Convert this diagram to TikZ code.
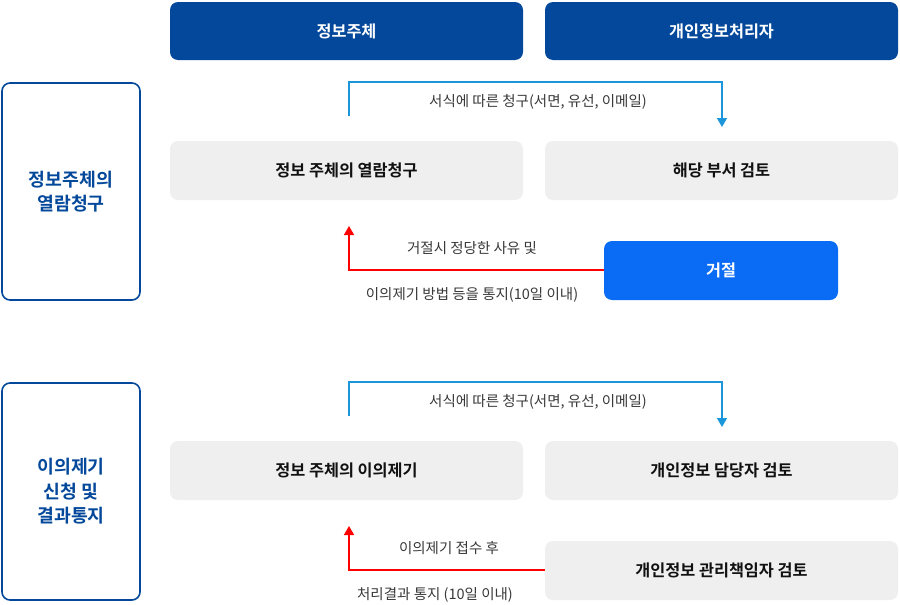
\documentclass[tikz,border=0pt]{standalone}
\usepackage{fontspec}
\setmainfont{Noto Sans CJK KR}[BoldFont={* Bold}]
\usetikzlibrary{arrows.meta}
\definecolor{navy}{HTML}{03489A}
\definecolor{btnblue}{HTML}{0A6CF5}
\definecolor{boxgray}{HTML}{EFEFEF}
\definecolor{linkblue}{HTML}{1B96DA}
\definecolor{labgray}{HTML}{383838}
\definecolor{txt}{HTML}{111111}
\tikzset{
  hdr/.style={fill=navy, rounded corners=8pt, text=white, font=\fontsize{16.3}{18}\selectfont\bfseries},
  side/.style={draw=navy, line width=1.6pt, fill=white, rounded corners=8pt, text=navy, align=center, font=\fontsize{18.3}{24.5}\selectfont\bfseries},
  gbox/.style={fill=boxgray, rounded corners=8pt, text=txt, font=\fontsize{16.3}{18}\selectfont\bfseries},
  bbox/.style={fill=btnblue, rounded corners=8pt, text=white, font=\fontsize{16.3}{18}\selectfont\bfseries},
  lab/.style={text=labgray, font=\fontsize{14.5}{16}\selectfont},
  bluearr/.style={draw=linkblue, line width=1.5pt, -{Triangle[length=9pt,width=10pt]}},
  redarr/.style={draw=red, line width=1.5pt, -{Triangle[length=9pt,width=10pt]}},
}
\begin{document}
\begin{tikzpicture}[x=1pt,y=-1pt]
\useasboundingbox (0,0) rectangle (900,605);
% headers
\node[hdr, minimum width=353pt, minimum height=58pt] (h1) at (346.5,31) {정보주체};
\node[hdr, minimum width=353pt, minimum height=58pt] (h2) at (721.5,31) {개인정보처리자};
% side boxes
\node[side, minimum width=138pt, minimum height=217pt] (s1) at (71,191.5) {정보주체의\\열람청구};
\node[side, minimum width=138pt, minimum height=217pt] (s2) at (71,491.5) {이의제기\\신청 및\\결과통지};
% section 1
\node[gbox, minimum width=353pt, minimum height=59pt] (a1) at (346.5,170.5) {정보 주체의 열람청구};
\node[gbox, minimum width=353pt, minimum height=59pt] (b1) at (721.5,170.5) {해당 부서 검토};
\node[bbox, minimum width=234pt, minimum height=59pt] (c1) at (721,270.5) {거절};
\coordinate (a1s) at (349,116);
\coordinate (b1e) at (722,127);
\draw[bluearr] (a1s) -- (349,82) -- (722,82) -- (b1e);
\node[lab] (l1) at (538,102) {서식에 따른 청구(서면, 유선, 이메일)};
\coordinate (a1e) at (349,226);
\draw[redarr] (c1.west |- 0,270) -- (349,270) -- (a1e);
\node[lab] (l2) at (472,248) {거절시 정당한 사유 및};
\node[lab] (l3) at (472,295) {이의제기 방법 등을 통지(10일 이내)};
% section 2
\node[gbox, minimum width=353pt, minimum height=59pt] (a2) at (346.5,470.5) {정보 주체의 이의제기};
\node[gbox, minimum width=353pt, minimum height=59pt] (b2) at (721.5,470.5) {개인정보 담당자 검토};
\node[gbox, minimum width=353pt, minimum height=59pt] (c2) at (721.5,570.5) {개인정보 관리책임자 검토};
\coordinate (a2s) at (349,416);
\coordinate (b2e) at (722,427);
\draw[bluearr] (a2s) -- (349,382) -- (722,382) -- (b2e);
\node[lab] (l4) at (538,402) {서식에 따른 청구(서면, 유선, 이메일)};
\coordinate (a2e) at (349,526);
\draw[redarr] (c2.west |- 0,570) -- (349,570) -- (a2e);
\node[lab] (l5) at (449,548) {이의제기 접수 후};
\node[lab] (l6) at (435,595) {처리결과 통지 (10일 이내)};
\end{tikzpicture}
\end{document}
